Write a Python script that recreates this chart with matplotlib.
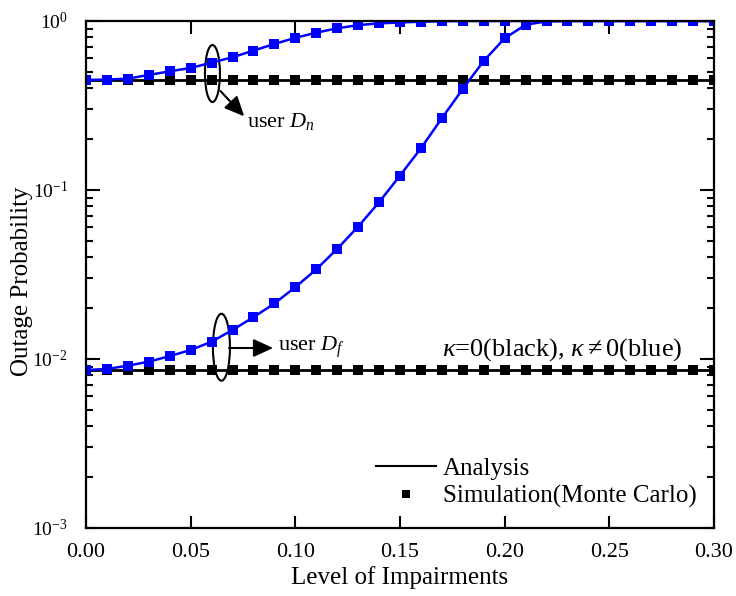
import matplotlib
matplotlib.use("Agg")
import matplotlib.pyplot as plt
from matplotlib.lines import Line2D
from matplotlib.patches import Ellipse
import numpy as np

plt.rcParams["font.family"] = ["Liberation Serif", "DejaVu Serif"]
plt.rcParams["mathtext.fontset"] = "custom"
plt.rcParams["mathtext.rm"] = "Liberation Serif"
plt.rcParams["mathtext.it"] = "Liberation Serif:italic"
plt.rcParams["axes.unicode_minus"] = False

# level of impairments
impairment = [0.00, 0.01, 0.02, 0.03, 0.04, 0.05, 0.06, 0.07, 0.08, 0.09,
              0.10, 0.11, 0.12, 0.13, 0.14, 0.15, 0.16, 0.17, 0.18, 0.19,
              0.20, 0.21, 0.22, 0.23, 0.24, 0.25, 0.26, 0.27, 0.28, 0.29, 0.30]

# kappa = 0 (ideal hardware)
dn_ideal = [0.448] * 31
df_ideal = [0.0086] * 31

# kappa != 0
dn_impaired = [0.448, 0.450, 0.456, 0.479, 0.504, 0.527, 0.567, 0.610, 0.668, 0.731,
               0.795, 0.853, 0.905, 0.945, 0.968, 0.980, 0.990, 0.996, 1.0, 1.0,
               1.0, 1.0, 1.0, 1.0, 1.0, 1.0, 1.0, 1.0, 1.0, 1.0, 1.0]
df_impaired = [0.0086, 0.00873, 0.00913, 0.00964, 0.0104, 0.0113, 0.01265, 0.01485, 0.01766, 0.0213,
               0.0266, 0.0339, 0.0448, 0.0607, 0.0846, 0.1216, 0.1765, 0.2656, 0.396, 0.580,
               0.790, 0.950, 0.995, 1.0, 1.0, 1.0, 1.0, 1.0, 1.0, 1.0, 1.0]

fig, ax = plt.subplots(figsize=(7.36, 5.96), dpi=100)
fig.subplots_adjust(left=0.1168, right=0.9701, top=0.9648, bottom=0.1141)

mk = dict(marker="s", markersize=6.5, markeredgewidth=0)
ax.plot(impairment, dn_ideal, color="black", lw=2, **mk)
ax.plot(impairment, df_ideal, color="black", lw=2, **mk)
ax.plot(impairment, dn_impaired, color="#0000ff", lw=1.8, **mk)
ax.plot(impairment, df_impaired, color="#0000ff", lw=1.8, **mk)

ax.set_yscale("log")
ax.set_xlim(0, 0.30)
ax.set_ylim(1e-3, 1)
ax.set_xticks(np.arange(0, 0.301, 0.05))
ax.set_xticklabels([f"{v:.2f}" for v in np.arange(0, 0.301, 0.05)])

for s in ax.spines.values():
    s.set_linewidth(1.6)
ax.tick_params(axis="both", which="both", direction="in", top=True, right=True, width=1.5)
ax.tick_params(axis="x", which="major", length=9, labelsize=16, pad=11)
ax.tick_params(axis="y", which="major", length=10, labelsize=14, pad=13)
ax.tick_params(axis="y", which="minor", length=5)

ax.set_xlabel("Level of Impairments", fontsize=18, labelpad=3)
fig.text(22 / 736, 1 - 281 / 596, "Outage Probability", rotation=90, fontsize=18,
         ha="center", va="center")

# ellipses and arrows marking the user groups
ax.add_patch(Ellipse((0.2014, 0.8964), 0.0239, 0.1124, transform=ax.transAxes,
                     fill=False, lw=1.5, color="black"))
ax.add_patch(Ellipse((0.2157, 0.3565), 0.0271, 0.132, transform=ax.transAxes,
                     fill=False, lw=1.5, color="black"))
arrow = dict(arrowstyle="-|>,head_length=1.2,head_width=0.55", color="black", lw=1.5,
             shrinkA=0, shrinkB=0)
ax.annotate("", xy=(0.252, 0.812), xytext=(0.214, 0.862),
            xycoords="axes fraction", textcoords="axes fraction", arrowprops=arrow)
ax.annotate("", xy=(0.298, 0.355), xytext=(0.228, 0.355),
            xycoords="axes fraction", textcoords="axes fraction", arrowprops=arrow)
ax.text(0.256, 0.802, r"user $D_n$", transform=ax.transAxes, fontsize=16, va="center")
ax.text(0.305, 0.357, r"user $D_f$", transform=ax.transAxes, fontsize=16, va="center")
ax.text(0.567, 0.352, r"$\kappa$=0(black), $\kappa\neq$0(blue)", transform=ax.transAxes,
        fontsize=19, va="center")

handles = [Line2D([], [], color="black", lw=1.5),
           Line2D([], [], color="black", ls="none", marker="s", markersize=6, markeredgewidth=0)]
ax.legend(handles, ["Analysis", "Simulation(Monte Carlo)"], loc="lower right",
          bbox_to_anchor=(1.0, 0.005), frameon=False, fontsize=18, handlelength=2.4,
          handletextpad=0.25, labelspacing=0.2, borderaxespad=0.3)

fig.savefig("out.png", dpi=100)
